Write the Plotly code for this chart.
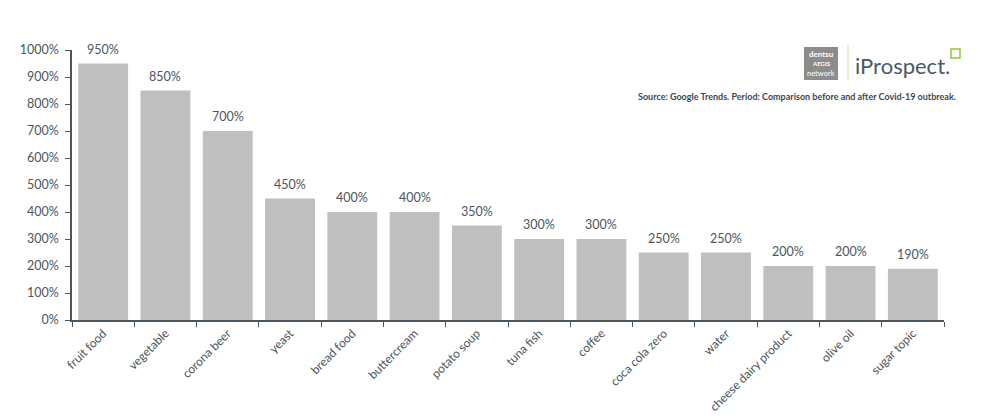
import plotly.graph_objects as go

categories = ["fruit food", "vegetable", "corona beer", "yeast", "bread food", "buttercream",
              "potato soup", "tuna fish", "coffee", "coca cola zero", "water",
              "cheese dairy product", "olive oil", "sugar topic"]
values = [950, 850, 700, 450, 400, 400, 350, 300, 300, 250, 250, 200, 200, 190]
y_ticks = list(range(0, 1001, 100))
y_tick_labels = [f"{v}%" for v in y_ticks]

axis_color = "#4b555d"
text_color = "#4b555d"
font_family = "Lato, 'Noto Sans', sans-serif"

fig = go.Figure(go.Bar(
    x=categories, y=values,
    marker=dict(color="#bfbfbf", line=dict(width=0)),
    cliponaxis=False,
))
for c, v in zip(categories, values):
    fig.add_annotation(x=c, y=v, text=f"{v}%", showarrow=False,
                       yanchor="bottom", yshift=5,
                       font=dict(size=12.5, color=text_color, family=font_family))

# page body has an 8px offset; target plot area in page pixels: x 72..944, y 50..320
OFF = 8
W, H = 992 - OFF, 419 - OFF
L, T = 72 - OFF, 50 - OFF
R = W - (944 - OFF)
B = H - (320 - OFF)
pw, ph = W - L - R, H - T - B

def px(x):
    return (x - 72) / pw

def py(y):
    return (320 - y) / ph

fig.update_layout(
    width=W, height=H,
    margin=dict(l=L, r=R, t=T, b=B),
    paper_bgcolor="white", plot_bgcolor="white",
    bargap=0.2, showlegend=False,
    font=dict(family=font_family, color=text_color, size=12),
)
fig.update_xaxes(
    automargin=False,
    showline=True, linecolor=axis_color, linewidth=1.5,
    ticks="outside", tickson="boundaries", tickcolor=axis_color, ticklen=5,
    tickangle=-45, tickfont=dict(size=12, color=text_color),
    showgrid=False,
)
fig.update_yaxes(
    automargin=False,
    range=[0, 1000], tickvals=y_ticks, ticktext=y_tick_labels,
    showline=True, linecolor=axis_color, linewidth=1.5,
    ticks="outside", tickcolor=axis_color, ticklen=5, ticklabelstandoff=4,
    tickfont=dict(size=12.5, color=text_color), showgrid=False, zeroline=False,
)

# Logo block
fig.add_shape(type="rect", xref="paper", yref="paper", layer="below",
              x0=px(804), x1=px(838), y0=py(80), y1=py(47),
              fillcolor="#8c8c8c", line=dict(width=0))
for t, yy, sz, bold in [("dentsu", 53.5, 8, True), ("AEGIS", 63.5, 6, True), ("network", 73.5, 7.5, False)]:
    fig.add_annotation(xref="paper", yref="paper", x=px(821), y=py(yy),
                       xanchor="center", yanchor="middle",
                       text=("<b>%s</b>" % t) if bold else t, showarrow=False,
                       font=dict(size=sz, color="white", family=font_family))
fig.add_shape(type="line", xref="paper", yref="paper",
              x0=px(848), x1=px(848), y0=py(81), y1=py(45),
              line=dict(color="#dcebc8", width=1.5))
fig.add_annotation(xref="paper", yref="paper", x=px(853), y=py(66),
                   xanchor="left", yanchor="middle", text="iProspect.", showarrow=False,
                   font=dict(size=22, color="#4c5a63", family=font_family))
fig.add_shape(type="rect", xref="paper", yref="paper",
              x0=px(951), x1=px(960), y0=py(58), y1=py(49),
              fillcolor="white", line=dict(width=1.5, color="#8dc63f"))
fig.add_annotation(xref="paper", yref="paper", x=px(958), y=py(96),
                   xanchor="right", yanchor="middle",
                   text="<b>Source: Google Trends. Period: Comparison before and after Covid-19 outbreak.</b>",
                   showarrow=False, font=dict(size=9, color="#3d464d", family=font_family))

fig.write_html("out.html")
